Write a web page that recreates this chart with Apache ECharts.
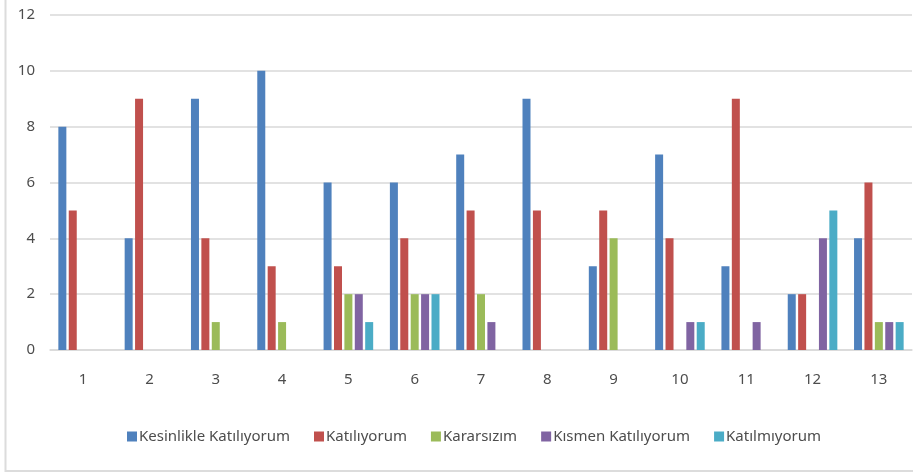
<!DOCTYPE html>
<html>
<head>
<meta charset="utf-8">
<script src="https://cdn.jsdelivr.net/npm/echarts@6/dist/echarts.min.js"></script>
<style>
  html, body { margin: 0; padding: 0; background: #fff; }
  #chart { width: 913px; height: 473px; }
</style>
</head>
<body>
<div id="chart"></div>
<script>
// soru numaralari
const categories = ["1", "2", "3", "4", "5", "6", "7", "8", "9", "10", "11", "12", "13"];

// yanit sayilari
const kesinlikle = [8, 4, 9, 10, 6, 6, 7, 9, 3, 7, 3, 2, 4];
const katiliyorum = [5, 9, 4, 3, 3, 4, 5, 5, 5, 4, 9, 2, 6];
const kararsizim = [0, 0, 1, 1, 2, 2, 2, 0, 4, 0, 0, 0, 1];
const kismen = [0, 0, 0, 0, 2, 2, 1, 0, 0, 1, 1, 4, 1];
const katilmiyorum = [0, 0, 0, 0, 1, 2, 0, 0, 0, 1, 0, 5, 1];

const yTicks = [0, 2, 4, 6, 8, 10, 12];

const fontFamily = "'Noto Sans', sans-serif";

function bar(name, data, color) {
  return {
    name: name,
    type: "bar",
    data: data,
    barWidth: 8,
    barGap: "30%",
    itemStyle: { color: color },
  };
}

let myChart = echarts.init(document.getElementById("chart"));
let option = {
  animation: false,
  textStyle: { fontFamily: fontFamily },
  graphic: [
    {
      type: "rect",
      shape: { x: 5.5, y: -5, width: 920, height: 476 },
      style: { fill: null, stroke: "#dcdcdc", lineWidth: 2 },
      silent: true,
    },
  ],
  grid: { left: 50, right: 1, top: 15, bottom: 123 },
  legend: {
    left: 122,
    top: 424,
    itemWidth: 10,
    itemHeight: 10,
    itemGap: 24,
    icon: "rect",
    textStyle: { color: "#4d4d4d", fontSize: 15, fontFamily: fontFamily, padding: [0, 0, 0, -3] },
  },
  xAxis: {
    type: "category",
    data: categories,
    axisLine: { lineStyle: { color: "#d9d9d9", width: 1.5 } },
    axisTick: { show: false },
    axisLabel: { color: "#4d4d4d", fontSize: 15, margin: 22 },
  },
  yAxis: {
    type: "value",
    min: yTicks[0],
    max: yTicks[yTicks.length - 1],
    interval: 2,
    axisLine: { show: false },
    axisTick: { show: false },
    axisLabel: { color: "#4d4d4d", fontSize: 15, margin: 15 },
    splitLine: { lineStyle: { color: "#d9d9d9", width: 1.5 } },
  },
  series: [
    bar("Kesinlikle Katılıyorum", kesinlikle, "#4F81BD"),
    bar("Katılıyorum", katiliyorum, "#C0504D"),
    bar("Kararsızım", kararsizim, "#9BBB59"),
    bar("Kısmen Katılıyorum", kismen, "#8064A2"),
    bar("Katılmıyorum", katilmiyorum, "#4BACC6"),
  ],
};
myChart.setOption(option);
</script>
</body>
</html>
